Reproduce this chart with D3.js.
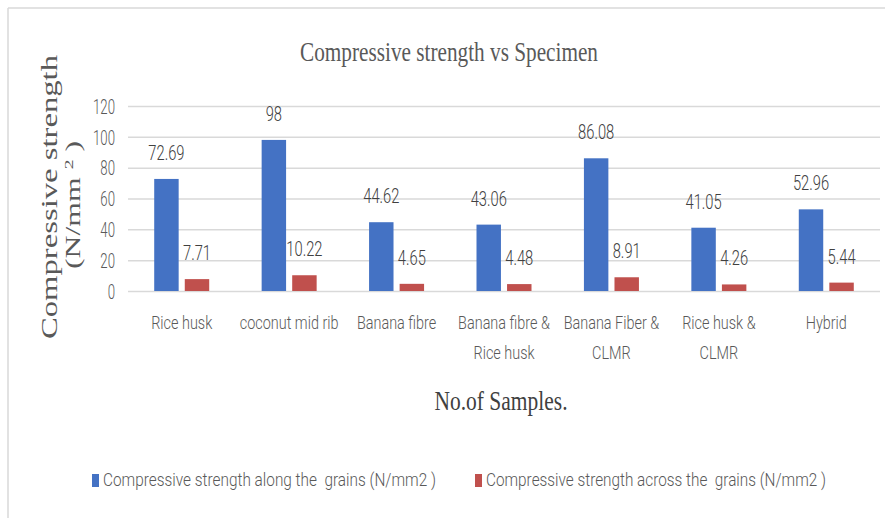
<!DOCTYPE html>
<html>
<head>
<meta charset="utf-8">
<script src="https://cdn.jsdelivr.net/npm/d3@7"></script>
<style>
  html, body { margin: 0; padding: 0; background: #fff; }
  svg text { white-space: pre; }
</style>
</head>
<body>
<svg id="chart" width="885" height="518"></svg>
<script>
// Specimen categories (line breaks mark wrapped axis labels)
const categories = [
  "Rice husk",
  "coconut mid rib",
  "Banana fibre",
  "Banana fibre &\nRice husk",
  "Banana Fiber &\nCLMR",
  "Rice husk &\nCLMR",
  "Hybrid"
];
const alongGrains  = [72.69, 98, 44.62, 43.06, 86.08, 41.05, 52.96];
const acrossGrains = [7.71, 10.22, 4.65, 4.48, 8.91, 4.26, 5.44];
const seriesNames = [
  "Compressive strength along the  grains (N/mm2 )",
  "Compressive strength across the  grains (N/mm2 )"
];
const yTicks = [0, 20, 40, 60, 80, 100, 120];

const colors = ["#4472C4", "#C0504D"];
const SANS = "Roboto, 'Liberation Sans', Arial, sans-serif";
const SERIF = "'Liberation Serif', 'Times New Roman', serif";

const svg = d3.select("#chart");

// squeeze a text element horizontally by factor k
function condense(sel, k) {
  sel.each(function () {
    const len = this.getComputedTextLength();
    d3.select(this).attr("textLength", len * k).attr("lengthAdjust", "spacingAndGlyphs");
  });
}

// chart area frame
svg.append("line").attr("x1", 8).attr("x2", 8).attr("y1", 8).attr("y2", 518)
  .attr("stroke", "#d9d9d9").attr("stroke-width", 1.5);
svg.append("line").attr("x1", 8).attr("x2", 885).attr("y1", 8).attr("y2", 8)
  .attr("stroke", "#d9d9d9").attr("stroke-width", 1.5);

const plot = { left: 128, right: 880, top: 106, bottom: 291 };

const y = d3.scaleLinear().domain([0, 120]).range([plot.bottom, plot.top]);
const x0 = d3.scaleBand().domain(d3.range(categories.length))
  .range([plot.left, plot.right]).paddingInner(0.488).paddingOuter(0.244);
const x1 = d3.scaleBand().domain([0, 1]).range([0, x0.bandwidth()])
  .paddingInner(0.2).paddingOuter(0);

// gridlines and value axis
const yAxis = d3.axisLeft(y).tickValues(yTicks)
  .tickSize(-(plot.right - plot.left)).tickPadding(14);
const gy = svg.append("g").attr("transform", `translate(${plot.left},0)`).call(yAxis);
gy.select(".domain").remove();
gy.selectAll(".tick line").attr("stroke", "#d9d9d9").attr("stroke-width", 1.5);
gy.selectAll(".tick text")
  .attr("fill", "#595959").style("font-family", SANS).style("font-size", "20px")
  .style("font-weight", 300)
  .attr("dy", "0.36em").attr("x", -13);
condense(gy.selectAll(".tick text"), 0.66);

// bars
const series = [alongGrains, acrossGrains];
const groups = svg.append("g").selectAll("g")
  .data(categories.map((c, i) => i)).join("g")
  .attr("transform", i => `translate(${x0(i)},0)`);

groups.selectAll("rect")
  .data(i => series.map((s, k) => ({ k, v: s[i] }))).join("rect")
  .attr("x", d => x1(d.k))
  .attr("width", x1.bandwidth())
  .attr("y", d => y(d.v))
  .attr("height", d => y(0) - y(d.v))
  .attr("fill", d => colors[d.k]);

// value labels
const vl = groups.selectAll("text.val")
  .data(i => series.map((s, k) => ({ k, v: s[i] }))).join("text")
  .attr("class", "val")
  .attr("x", d => x1(d.k) + x1.bandwidth() / 2)
  .attr("y", d => y(d.v) - 19)
  .attr("text-anchor", "middle")
  .attr("fill", "#404040")
  .style("font-family", SANS).style("font-size", "21px").style("font-weight", 300)
  .text(d => String(d.v));
condense(vl, 0.7);

// category labels: one text per line, narrowed with a horizontal scale
const catLines = categories.flatMap((c, i) =>
  c.split("\n").map((ln, j) => ({ i, j, ln })));
svg.append("g").selectAll("text")
  .data(catLines).join("text")
  .attr("transform", d => `translate(${x0(d.i) + x0.bandwidth() / 2},${329 + d.j * 30}) scale(0.76,1)`)
  .attr("text-anchor", "middle")
  .attr("fill", "#595959")
  .style("font-family", SANS).style("font-size", "19px").style("font-weight", 300)
  .text(d => d.ln);

// chart title
svg.append("text")
  .attr("x", 449).attr("y", 61).attr("text-anchor", "middle")
  .attr("fill", "#595959")
  .style("font-family", SERIF).style("font-size", "28px")
  .text("Compressive strength vs Specimen")
  .attr("textLength", 298).attr("lengthAdjust", "spacingAndGlyphs");

// x axis title
svg.append("text")
  .attr("x", 501).attr("y", 410).attr("text-anchor", "middle")
  .attr("fill", "#404040")
  .style("font-family", SERIF).style("font-size", "27px")
  .text("No.of Samples.")
  .attr("textLength", 133).attr("lengthAdjust", "spacingAndGlyphs");

// y axis title (two lines, rotated)
const yt = svg.append("g");
yt.append("text")
  .attr("transform", "translate(57,197) rotate(-90)")
  .attr("text-anchor", "middle")
  .attr("fill", "#595959")
  .style("font-family", SERIF).style("font-size", "24px")
  .text("Compressive strength")
  .attr("textLength", 284).attr("lengthAdjust", "spacingAndGlyphs");
const yt2 = yt.append("text")
  .attr("transform", "translate(80,205) rotate(-90)")
  .attr("text-anchor", "middle")
  .attr("fill", "#595959")
  .style("font-family", SERIF).style("font-size", "21px");
yt2.append("tspan").text("(N/mm ");
yt2.append("tspan").attr("baseline-shift", "super").style("font-size", "13px").text("2");
yt2.append("tspan").text(" )");
yt2.attr("textLength", 128).attr("lengthAdjust", "spacingAndGlyphs");

// legend
const legendX = [92, 475];
const lg = svg.append("g").selectAll("g").data(seriesNames).join("g")
  .attr("transform", (d, i) => `translate(${legendX[i]},474)`);
lg.append("rect").attr("width", 7).attr("height", 13).attr("fill", (d, i) => colors[i]);
lg.append("text")
  .attr("x", 11).attr("y", 12)
  .attr("fill", "#595959")
  .style("font-family", SANS).style("font-size", "18px").style("font-weight", 300)
  .text(d => d)
  .each(function (d, i) {
    d3.select(this).attr("textLength", [333, 340][i]).attr("lengthAdjust", "spacingAndGlyphs");
  });
</script>
</body>
</html>
